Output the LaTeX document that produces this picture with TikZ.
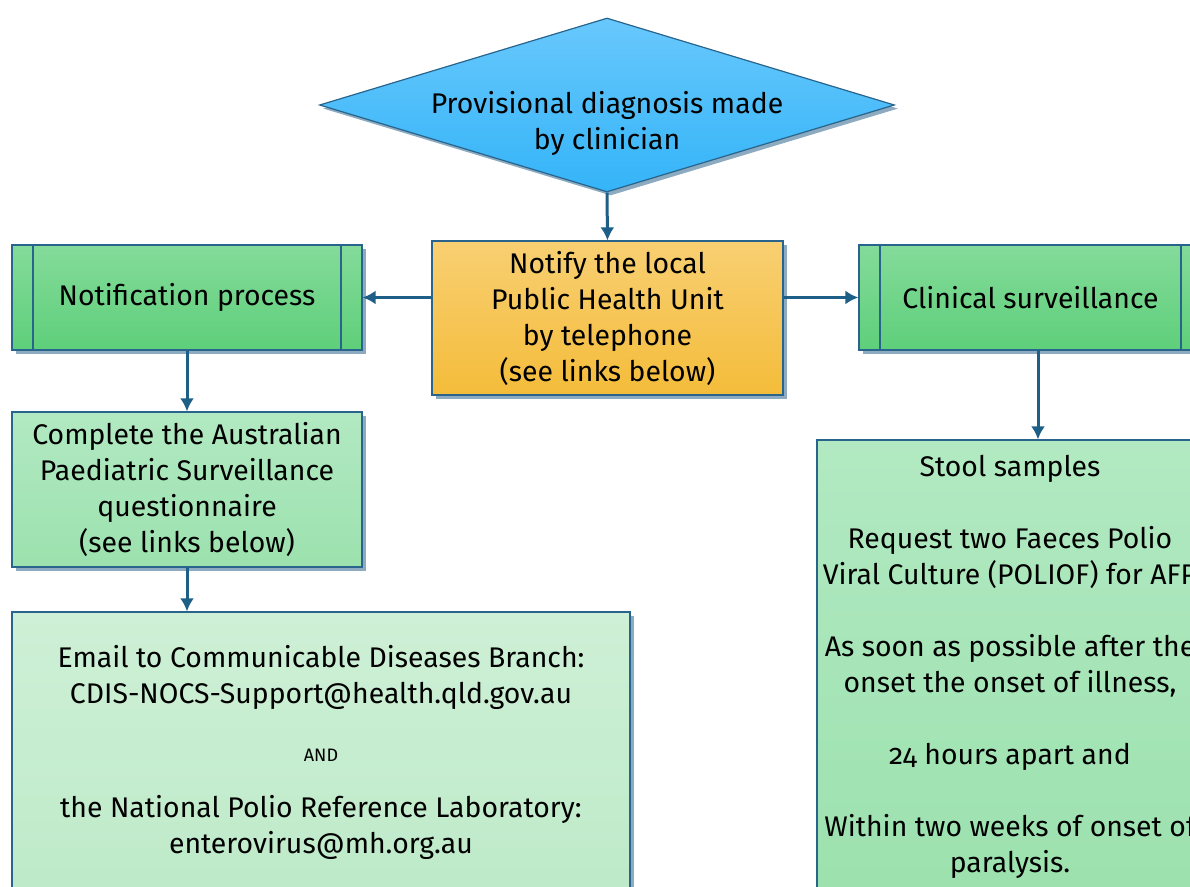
\documentclass[tikz,border=0pt]{standalone}
\usepackage{fontspec}
\setmainfont{Fira Sans}[Numbers=OldStyle]
\usepackage{tikz}
\usetikzlibrary{positioning,shapes,arrows.meta,shadows}
\definecolor{bord}{RGB}{40,100,140}
\definecolor{arr}{RGB}{30,95,135}
\definecolor{shad}{RGB}{140,170,192}
\definecolor{diaTop}{RGB}{104,200,252}
\definecolor{diaBot}{RGB}{52,180,248}
\definecolor{ntTop}{RGB}{248,207,114}
\definecolor{ntBot}{RGB}{244,188,58}
\definecolor{prTop}{RGB}{132,219,154}
\definecolor{prBot}{RGB}{94,207,122}
\definecolor{lgTop}{RGB}{178,233,194}
\definecolor{lgBot}{RGB}{156,225,174}
\definecolor{emTop}{RGB}{206,240,214}
\definecolor{emBot}{RGB}{190,234,201}
\tikzstyle{base} = [draw=bord, line width=0.6pt, align=center, inner sep=0pt, font=\fontsize{14.2}{18}\selectfont, drop shadow={shadow xshift=1.8pt, shadow yshift=-1.8pt, fill=shad, opacity=1}]
\tikzstyle{dec} = [base, diamond, aspect=3.3, minimum width=287.5pt, minimum height=87pt, top color=diaTop, bottom color=diaBot]
\tikzstyle{proc} = [base, rectangle, minimum height=52.5pt, top color=prTop, bottom color=prBot, path picture={
    \draw[bord, line width=0.6pt] ([xshift=10.5pt]path picture bounding box.north west) -- ([xshift=10.5pt]path picture bounding box.south west);
    \draw[bord, line width=0.6pt] ([xshift=-10.5pt]path picture bounding box.north east) -- ([xshift=-10.5pt]path picture bounding box.south east);}]
\tikzstyle{box} = [base, rectangle]
\tikzstyle{line} = [draw=arr, line width=1.5pt, -{Latex[length=6.5pt, width=7pt]}]

\begin{document}
\begin{tikzpicture}[x=0.5pt, y=-0.5pt]
        \useasboundingbox (0,0) rectangle (1190,887);
        \clip (0,0) rectangle (1190,887);
        % Place nodes
        \node at (607,105) [dec, label={[font=\fontsize{14.2}{18}\selectfont, align=center, yshift=-9pt]center:Provisional diagnosis made\\by clinician}] (diag) {};
        \node at (607.5,318) [box, minimum width=175.5pt, minimum height=77pt, top color=ntTop, bottom color=ntBot] (notify) {Notify the local\\Public Health Unit\\by telephone\\(see links below)};
        \node at (187,297.5) [proc, minimum width=175pt] (notif) {Notification process};
        \node at (1030.5,297.5) [proc, minimum width=171.5pt] (clin) {Clinical surveillance};
        \node at (187,489.5) [box, minimum width=175pt, minimum height=77.5pt, top color=lgTop, bottom color=lgBot] (quest) {Complete the Australian\\Paediatric Surveillance\\questionnaire\\(see links below)};
        \node at (321,752) [box, minimum width=309pt, minimum height=140pt, top color=emTop, bottom color=emBot] (email) {Email to Communicable Diseases Branch:\\CDIS-NOCS-Support@health.qld.gov.au\\[11pt]{\fontsize{9}{11}\selectfont AND}\\[10pt]the National Polio Reference Laboratory:\\enterovirus@mh.org.au};
        \node at (1010,667) [box, minimum width=193pt, minimum height=227pt, top color=lgTop, bottom color=lgBot] (stool) {Stool samples\\[18pt]Request two Faeces Polio\\Viral Culture (POLIOF) for AFP\\[18pt]As soon as possible after the\\onset the onset of illness,\\[18pt]24 hours apart and\\[18pt]Within two weeks of onset of\\paralysis.};

        % Draw edges
        \path [line] (diag.south) -- (notify.north);
        \path [line] (notify.west |- notif.east) -- (notif.east);
        \path [line] (notify.east |- clin.west) -- (clin.west);
        \path [line] (notif.south) -- (quest.north);
        \path [line] (quest.south) -- (quest.south |- email.north);
        \path [line] ([xshift=3.75pt]clin.south) -- ([xshift=3.75pt]clin.south |- stool.north);
    \end{tikzpicture}
\end{document}
